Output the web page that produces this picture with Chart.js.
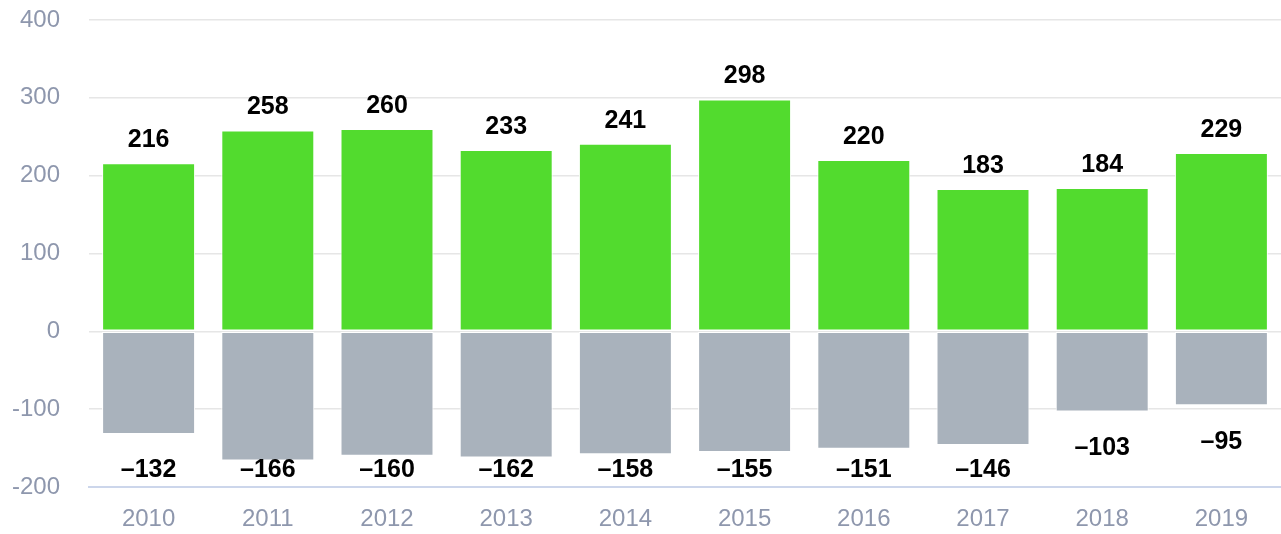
<!DOCTYPE html>
<html>
<head>
<meta charset="utf-8">
<script src="https://cdn.jsdelivr.net/npm/chart.js@4"></script>
<style>
  html, body { margin: 0; padding: 0; background: #fff; }
  #wrap { width: 1281px; height: 534px; position: relative; }
</style>
</head>
<body>
<div id="wrap"><canvas id="chart"></canvas></div>
<script>
// Data
const years = ['2010', '2011', '2012', '2013', '2014', '2015', '2016', '2017', '2018', '2019'];
const gains = [216, 258, 260, 233, 241, 298, 220, 183, 184, 229];
const losses = [-132, -166, -160, -162, -158, -155, -151, -146, -103, -95];
const yTicks = [-200, -100, 0, 100, 200, 300, 400];

const tickColor = '#8e97ad';
const tickFont = { family: '"Liberation Sans", Arial, sans-serif', size: 24 };
const labelFont = 'bold 25px "Liberation Sans", Arial, sans-serif';

// Value labels above / below each bar
const valueLabels = {
    id: 'valueLabels',
    afterDatasetsDraw(chart) {
        const ctx = chart.ctx;
        const area = chart.chartArea;
        ctx.save();
        ctx.font = labelFont;
        ctx.fillStyle = '#000';
        ctx.textAlign = 'center';
        ctx.textBaseline = 'middle';
        chart.data.datasets.forEach((ds, i) => {
            chart.getDatasetMeta(i).data.forEach((bar, j) => {
                const v = ds.data[j];
                let y;
                if (v >= 0) {
                    y = bar.y - 23;
                } else {
                    y = Math.min(bar.y + 37, area.bottom - 17);
                }
                const text = v < 0 ? '\u2013' + Math.abs(v) : String(v);
                ctx.fillText(text, bar.x, y);
            });
        });
        ctx.restore();
    }
};

new Chart(document.getElementById('chart'), {
    type: 'bar',
    data: {
        labels: years,
        datasets: [{
            data: gains,
            backgroundColor: '#52db2e',
            borderColor: '#ffffff',
            borderWidth: 1,
            borderSkipped: false,
            barPercentage: 0.78,
            categoryPercentage: 1
        }, {
            data: losses,
            backgroundColor: '#a9b2bc',
            borderColor: '#ffffff',
            borderWidth: 1,
            borderSkipped: false,
            barPercentage: 0.78,
            categoryPercentage: 1
        }]
    },
    options: {
        responsive: true,
        maintainAspectRatio: false,
        animation: false,
        layout: { padding: { top: 20, right: 0, bottom: 0, left: 0 } },
        plugins: {
            legend: { display: false },
            tooltip: { enabled: false }
        },
        scales: {
            x: {
                stacked: true,
                afterFit: scale => { scale.height = 47; scale.paddingLeft = 0; scale.paddingRight = 0; },
                grid: { display: false, drawTicks: false },
                border: { display: true, color: '#ccd6eb', width: 2, z: 1 },
                ticks: {
                    color: tickColor,
                    font: tickFont,
                    padding: 18,
                    maxRotation: 0
                }
            },
            y: {
                stacked: true,
                min: yTicks[0],
                max: yTicks[yTicks.length - 1],
                afterBuildTicks: scale => { scale.ticks = yTicks.map(v => ({ value: v })); },
                afterFit: scale => { scale.width = 89; scale.paddingTop = 0; scale.paddingBottom = 0; },
                grid: { color: '#e6e6e6', lineWidth: 1.5, drawTicks: false },
                border: { display: false },
                ticks: {
                    color: tickColor,
                    font: tickFont,
                    padding: 29
                }
            }
        }
    },
    plugins: [valueLabels]
});
</script>
</body>
</html>
